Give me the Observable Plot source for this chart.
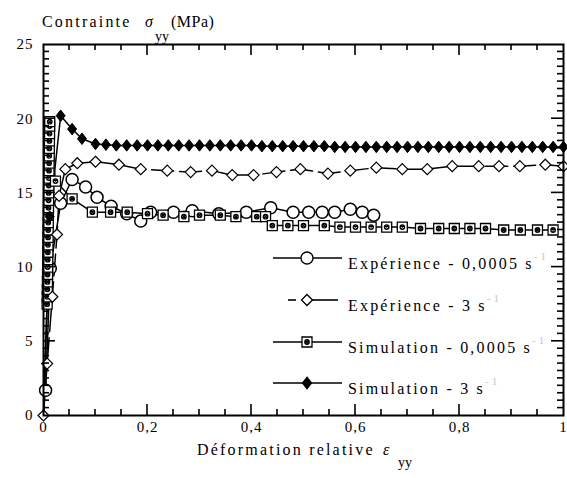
<!DOCTYPE html>
<html><head><meta charset="utf-8">
<script src="https://cdn.jsdelivr.net/npm/d3@7"></script>
<script src="https://cdn.jsdelivr.net/npm/@observablehq/plot@0.6"></script>
<style>body{margin:0;background:#fff} svg{display:block}</style>
</head><body><div id="chart"></div>
<script>
// ---------- data ----------
const seriesNames = ["Expérience - 0,0005 s", "Expérience - 3 s", "Simulation - 0,0005 s", "Simulation - 3 s"];
const unitSup = "-1";

const expLowX = [0.004, 0.013, 0.033, 0.055, 0.081, 0.103, 0.13, 0.16, 0.187, 0.206, 0.25, 0.286, 0.337, 0.39, 0.437, 0.48, 0.51, 0.536, 0.56, 0.59, 0.613, 0.635];
const expLowY = [1.7, 9.9, 14.3, 15.9, 15.4, 14.7, 14.1, 13.6, 13.1, 13.7, 13.7, 13.8, 13.6, 13.7, 14.0, 13.7, 13.7, 13.7, 13.7, 13.9, 13.7, 13.5];

const expHighX = [0, 0.007, 0.017, 0.026, 0.03, 0.042, 0.065, 0.1, 0.145, 0.187, 0.238, 0.283, 0.324, 0.363, 0.404, 0.448, 0.494, 0.547, 0.59, 0.64, 0.69, 0.738, 0.786, 0.837, 0.876, 0.916, 0.965, 1.0];
const expHighY = [0, 3.5, 8.0, 12.2, 14.8, 16.6, 17.0, 17.1, 16.9, 16.6, 16.5, 16.4, 16.5, 16.2, 16.2, 16.4, 16.6, 16.3, 16.5, 16.7, 16.6, 16.6, 16.8, 16.8, 16.8, 16.8, 16.9, 16.8];

const simLowX = [0,
  0.007, 0.0072, 0.0074, 0.0076, 0.0078, 0.008, 0.0082, 0.0084, 0.0086, 0.0088, 0.009, 0.0092, 0.0094,
  0.0096, 0.0098, 0.01, 0.0102, 0.0104, 0.0106, 0.0108, 0.011, 0.0112, 0.0114, 0.0116, 0.0118, 0.012,
  0.023, 0.055, 0.094, 0.129, 0.161, 0.2, 0.23, 0.27, 0.30, 0.34, 0.37, 0.41, 0.427, 0.44, 0.47, 0.50,
  0.54, 0.57, 0.60, 0.63, 0.66, 0.69, 0.725, 0.76, 0.79, 0.82, 0.85, 0.885, 0.917, 0.95, 0.98];
const simLowY = [0,
  7.5, 8, 8.5, 9, 9.5, 10, 10.5, 11, 11.5, 12, 12.5, 13, 13.5,
  14, 14.5, 15, 15.5, 16, 16.5, 17, 17.5, 18, 18.5, 19, 19.5, 19.8,
  15.8, 14.6, 13.7, 13.7, 13.7, 13.6, 13.5, 13.4, 13.5, 13.5, 13.4, 13.4, 13.4, 12.8, 12.8, 12.8,
  12.8, 12.7, 12.7, 12.7, 12.7, 12.7, 12.6, 12.6, 12.6, 12.6, 12.6, 12.5, 12.5, 12.5, 12.5];

const simHighX = [0, 0.012, 0.033, 0.055, 0.074, 0.1,
  0.12, 0.14, 0.16, 0.18, 0.20, 0.22, 0.24, 0.26, 0.28, 0.30, 0.32, 0.34, 0.36, 0.38, 0.40,
  0.42, 0.44, 0.46, 0.48, 0.50, 0.52, 0.54, 0.56, 0.58, 0.60, 0.62, 0.64, 0.66, 0.68, 0.70,
  0.72, 0.74, 0.76, 0.78, 0.80, 0.82, 0.84, 0.86, 0.88, 0.90, 0.92, 0.94, 0.96, 0.98, 1.0];
const simHighY = [0, 13.4, 20.2, 19.3, 18.65, 18.3,
  18.25, 18.2, 18.2, 18.2, 18.2, 18.2, 18.2, 18.2, 18.2, 18.2, 18.2, 18.2, 18.2, 18.2, 18.2,
  18.15, 18.15, 18.15, 18.15, 18.15, 18.15, 18.15, 18.1, 18.1, 18.1, 18.1, 18.1, 18.1, 18.1, 18.1,
  18.1, 18.1, 18.1, 18.1, 18.1, 18.1, 18.1, 18.1, 18.1, 18.1, 18.1, 18.1, 18.1, 18.1, 18.1];

const xTicks = [0, 0.2, 0.4, 0.6, 0.8, 1];
const xTickLabels = ["0", "0,2", "0,4", "0,6", "0,8", "1"];
const yTicks = [0, 5, 10, 15, 20, 25];
const yTickLabels = ["0", "5", "10", "15", "20", "25"];

// ---------- build ----------
const rows = (xs, ys) => xs.map((x, i) => ({x, y: ys[i]}));
const expLow = rows(expLowX, expLowY);
const expHigh = rows(expHighX, expHighY);
const simLow = rows(simLowX, simLowY);
const simHigh = rows(simHighX, simHighY);
const xLab = new Map(xTicks.map((t, i) => [t, xTickLabels[i]]));
const yLab = new Map(yTicks.map((t, i) => [t, yTickLabels[i]]));

const kOf = size => Math.sqrt(size / Math.PI);
const symFilledDiamond = {draw(c, s) { const k = kOf(s);
  c.moveTo(0, -1.15 * k); c.lineTo(0.9 * k, 0); c.lineTo(0, 1.15 * k); c.lineTo(-0.9 * k, 0); c.closePath(); }};
const symOpenDiamond = {draw(c, s) { const k = kOf(s);
  c.moveTo(0, -1.1 * k); c.lineTo(1.1 * k, 0); c.lineTo(0, 1.1 * k); c.lineTo(-1.1 * k, 0); c.closePath(); }};
const symCrossSquare = {draw(c, s) { const k = kOf(s);
  c.moveTo(-k, -k); c.lineTo(k, -k); c.lineTo(k, k); c.lineTo(-k, k); c.closePath();
  const r = 0.45 * k, q = r * 0.7;
  c.moveTo(r, 0); c.arc(0, 0, r, 0, 2 * Math.PI);
  c.moveTo(-q, -q); c.lineTo(q, q); c.moveTo(q, -q); c.lineTo(-q, q); }};

const serif = "Liberation Serif, Times New Roman, Times, serif";
const plot = Plot.plot({
  width: 567, height: 478,
  marginLeft: 43, marginRight: 4, marginTop: 44, marginBottom: 63,
  x: {domain: [0, 1]},
  y: {domain: [0, 25]},
  style: {fontFamily: serif, fontSize: "15px", background: "white", color: "black", letterSpacing: "1px"},
  marks: [
    Plot.line(expLow, {x: "x", y: "y", stroke: "black", strokeWidth: 1.5}),
    Plot.line(simLow, {x: "x", y: "y", stroke: "black", strokeWidth: 1.5}),
    Plot.line(expHigh, {x: "x", y: "y", stroke: "black", strokeWidth: 1.5, strokeDasharray: "22,6"}),
    Plot.line(simHigh, {x: "x", y: "y", stroke: "black", strokeWidth: 1.5}),
    Plot.dot(expLow, {x: "x", y: "y", r: 6, symbol: "circle", fill: "white", stroke: "black", strokeWidth: 1.5}),
    Plot.dot(simLow.slice(1), {x: "x", y: "y", r: 5, symbol: symCrossSquare, fill: "white", stroke: "black", strokeWidth: 1.3}),
    Plot.dot(expHigh, {x: "x", y: "y", r: 5, symbol: symOpenDiamond, fill: "white", stroke: "black", strokeWidth: 1.2}),
    Plot.dot(simHigh.slice(1), {x: "x", y: "y", r: 5, symbol: symFilledDiamond, fill: "black", stroke: "black", strokeWidth: 1}),
    Plot.frame({stroke: "black", strokeWidth: 2}),
    Plot.axisX(xTicks, {anchor: "bottom", tickSize: 0, tickPadding: 6, label: null, tickFormat: d => xLab.get(d), fontSize: 15}),
    Plot.axisY(yTicks, {anchor: "left", tickSize: 0, tickPadding: 10, label: null, tickFormat: d => yLab.get(d), fontSize: 15})
  ]
});
document.getElementById("chart").append(plot);

// ---------- inward ticks, titles, legend ----------
const svg = d3.select(plot);
const sx = plot.scale("x"), sy = plot.scale("y");
const X0 = sx.apply(0), X1 = sx.apply(1), Yb = sy.apply(0), Yt = sy.apply(25);
const tg = svg.append("g").attr("stroke", "black").attr("stroke-width", 1.6);
d3.range(1, 20).forEach(i => {
  const px = sx.apply(i * 0.05), len = i % 4 === 0 ? 11 : 6;
  tg.append("line").attr("x1", px).attr("x2", px).attr("y1", Yb).attr("y2", Yb - len);
  tg.append("line").attr("x1", px).attr("x2", px).attr("y1", Yt).attr("y2", Yt + len);
});
d3.range(1, 50).forEach(i => {
  const py = sy.apply(i * 0.5), len = i % 10 === 0 ? 12 : 6;
  tg.append("line").attr("x1", X0).attr("x2", X0 + len).attr("y1", py).attr("y2", py);
  tg.append("line").attr("x1", X1).attr("x2", X1 - len).attr("y1", py).attr("y2", py);
});

const txt = svg.append("g").attr("font-family", serif).attr("fill", "black")
  .attr("font-size", 16).attr("letter-spacing", "2.2px").attr("text-anchor", "start");
// y title
const t1 = txt.append("text").attr("y", 27);
t1.append("tspan").attr("x", 42).text("Contrainte");
t1.append("tspan").attr("x", 145).attr("font-style", "italic").text("σ");
t1.append("tspan").attr("x", 155).attr("y", 41).attr("font-size", 14).attr("letter-spacing", "0px").text("yy");
t1.append("tspan").attr("x", 171).attr("y", 27).attr("letter-spacing", "0.5px").text("(MPa)");
// x title
const t2 = txt.append("text").attr("y", 455);
t2.append("tspan").attr("x", 197).text("Déformation relative");
t2.append("tspan").attr("x", 383).attr("font-style", "italic").text("ε");
t2.append("tspan").attr("x", 398).attr("y", 467).attr("font-size", 14).attr("letter-spacing", "0px").text("yy");

// legend
const legSyms = [
  {type: d3.symbolCircle, r: 6, fill: "white"},
  {type: symOpenDiamond, r: 5, fill: "white"},
  {type: symCrossSquare, r: 5, fill: "white"},
  {type: symFilledDiamond, r: 5, fill: "black"}
];
const legY = [258, 300, 342, 383];
const lg = svg.append("g");
seriesNames.forEach((name, i) => {
  const y = legY[i];
  if (i === 1) {
    lg.append("line").attr("x1", 288).attr("x2", 296).attr("y1", y).attr("y2", y).attr("stroke", "black").attr("stroke-width", 1.6);
    lg.append("line").attr("x1", 310).attr("x2", 338).attr("y1", y).attr("y2", y).attr("stroke", "black").attr("stroke-width", 1.6);
  } else {
    lg.append("line").attr("x1", 273).attr("x2", 342).attr("y1", y).attr("y2", y).attr("stroke", "black").attr("stroke-width", 1.6);
  }
  const s = legSyms[i];
  lg.append("path").attr("transform", `translate(307,${y})`)
    .attr("d", d3.symbol().type(s.type).size(Math.PI * s.r * s.r)())
    .attr("fill", s.fill).attr("stroke", "black").attr("stroke-width", 1.3);
  const t = txt.append("text").attr("x", 348).attr("y", y + 11);
  t.append("tspan").text(name);
  t.append("tspan").attr("dy", -9).attr("font-size", 11).attr("fill", "#c8c8c8").attr("letter-spacing", "3px").text(unitSup);
});
</script>
</body></html>
